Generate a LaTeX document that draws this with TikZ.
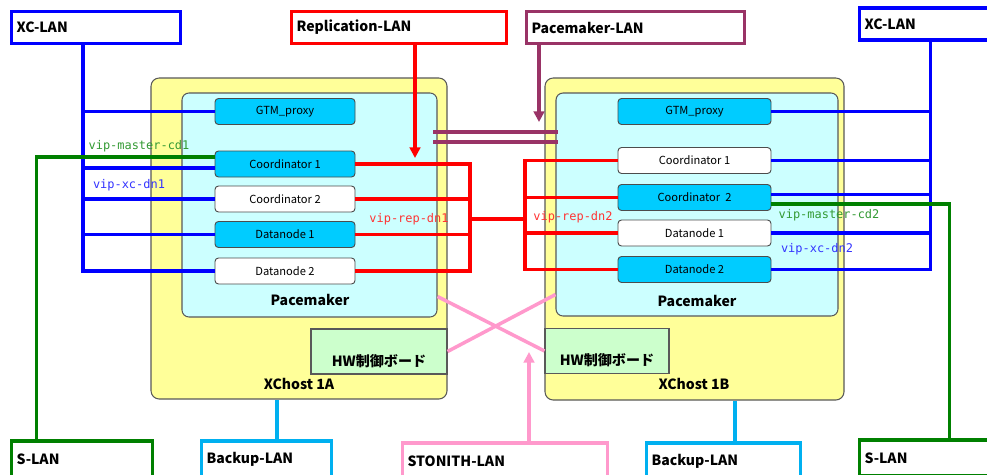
\documentclass[tikz,border=0pt]{standalone}
\usepackage{fontspec}
\setmainfont{Noto Sans CJK JP}
\newfontfamily\vipmono{DejaVu Sans Mono}
\usetikzlibrary{arrows.meta,calc}

\definecolor{xcblue}{HTML}{0000FF}
\definecolor{repred}{HTML}{FF0000}
\definecolor{pmpurple}{HTML}{993366}
\definecolor{sgreen}{HTML}{008000}
\definecolor{bkblue}{HTML}{00B0F0}
\definecolor{stpink}{HTML}{FF99CC}
\definecolor{hostyellow}{HTML}{FFFF99}
\definecolor{pmcyan}{HTML}{CCFFFF}
\definecolor{boxcyan}{HTML}{00CCFF}
\definecolor{hwgreen}{HTML}{CCFFCC}

\newcommand{\pxw}{0.03cm}
\newcommand{\lanfont}{\bfseries\fontsize{12}{14}\selectfont}
\newcommand{\svcfont}{\fontsize{9.5}{10}\selectfont}
\newcommand{\vipfont}{\vipmono\fontsize{10.2}{12}\selectfont}

\tikzset{
  lan/.style={draw=#1, line width=2.6pt, fill=white, minimum height=32*\pxw,
    inner xsep=4pt, inner ysep=0pt, align=left, font=\lanfont},
  host/.style={draw=black!65, fill=hostyellow, rounded corners=7pt, line width=0.9pt},
  pm/.style={draw=black!65, fill=pmcyan, rounded corners=6pt, line width=0.9pt},
  hw/.style={draw=black!65, fill=hwgreen, line width=0.9pt, inner sep=0pt,
    text height=37*\pxw, text depth=8*\pxw, font=\lanfont},
  svc/.style={draw=black!70, rounded corners=3pt, line width=0.8pt,
    minimum height=26*\pxw, inner sep=0pt, font=\svcfont},
  hosttext/.style={font=\lanfont, inner sep=0pt},
  vip/.style={font=\vipfont, inner sep=0pt},
  xcline/.style={xcblue, line width=2.8pt},
  repline/.style={repred, line width=2.8pt},
  sline/.style={sgreen, line width=2.8pt},
  pmline/.style={pmpurple, line width=2.6pt},
  bkline/.style={bkblue, line width=2.8pt},
  stline/.style={stpink, line width=3pt},
  tip/.style={-{Triangle[length=9pt,width=9pt]}}
}

\begin{document}
\begin{tikzpicture}[x=0.03cm, y=-0.03cm]

\clip (0,0) rectangle (987,474);
\fill[white] (0,0) rectangle (987,474);

% LAN
\node[lan=xcblue, text width=159*\pxw] (xcA) at (96,27.5) {XC-LAN};
\node[lan=repred, text width=205*\pxw] (repl) at (399,27.5) {Replication-LAN};
\node[lan=pmpurple, text width=208*\pxw] (pmlan) at (635.5,27.5) {Pacemaker-LAN};
\node[lan=xcblue, text width=131*\pxw] (xcB) at (930,24) {XC-LAN};
\node[lan=sgreen, text width=131*\pxw, minimum height=36*\pxw] (slanA) at (82,459) {S-LAN};
\node[lan=bkblue, text width=120*\pxw, minimum height=36*\pxw] (bkA) at (266.5,459) {Backup-LAN};
\node[lan=stpink, text width=195*\pxw, minimum height=36*\pxw] (stonith) at (505,461) {STONITH-LAN};
\node[lan=bkblue, text width=144*\pxw, minimum height=36*\pxw] (bkB) at (723.5,461) {Backup-LAN};
\node[lan=sgreen, text width=131*\pxw, minimum height=36*\pxw] (slanB) at (930,458) {S-LAN};

% XChost 1A
\node[host, minimum width=296*\pxw, minimum height=321*\pxw] (hostA) at (299,238.5) {};
\node[pm, minimum width=255*\pxw, minimum height=224*\pxw] (pmA) at (309.5,205) {};
\node[hw, minimum width=136*\pxw] (hwA) at (379,351.5) {HW制御ボード};
\node[svc, fill=boxcyan, minimum width=140*\pxw] (gtmA) at (285,111.5) {GTM\_proxy};
\node[svc, fill=boxcyan, minimum width=140*\pxw] (cd1A) at (285,164) {Coordinator 1};
\node[svc, fill=white, minimum width=140*\pxw] (cd2A) at (285,199) {Coordinator 2};
\node[svc, fill=boxcyan, minimum width=140*\pxw] (dn1A) at (285,234.5) {Datanode 1};
\node[svc, fill=white, minimum width=140*\pxw] (dn2A) at (285,271) {Datanode 2};
\node[hosttext] (pmtA) at (310,300) {Pacemaker};
\node[hosttext] (nameA) at (299,384) {XChost 1A};

% XChost 1B
\node[host, minimum width=299*\pxw, minimum height=322*\pxw] (hostB) at (694.5,239) {};
\node[pm, minimum width=282*\pxw, minimum height=223*\pxw] (pmB) at (697,204.5) {};
\node[hw, minimum width=124*\pxw] (hwB) at (607,351) {HW制御ボード};
\node[svc, fill=boxcyan, minimum width=153*\pxw] (gtmB) at (694.5,111.5) {GTM\_proxy};
\node[svc, fill=white, minimum width=153*\pxw] (cd1B) at (694.5,160.5) {Coordinator 1};
\node[svc, fill=boxcyan, minimum width=153*\pxw] (cd2B) at (694.5,197.5) {Coordinator~ 2};
\node[svc, fill=white, minimum width=153*\pxw] (dn1B) at (694.5,233) {Datanode 1};
\node[svc, fill=boxcyan, minimum width=153*\pxw] (dn2B) at (694.5,269.5) {Datanode 2};
\node[hosttext] (pmtB) at (697,301) {Pacemaker};
\node[hosttext] (nameB) at (694,384) {XChost 1B};

% XC-LAN A
\coordinate (xcbusA) at ($(xcA.south)+(-13,0)$);
\coordinate (cd1Ax) at ($(cd1A.west)+(0,4)$);
\draw[xcline] (xcbusA) |- (dn2A.west);
\draw[xcline] (gtmA.west) -- (gtmA.west -| xcbusA);
\draw[xcline] (cd1Ax) -- (cd1Ax -| xcbusA);
\draw[xcline] (cd2A.west) -- (cd2A.west -| xcbusA);
\draw[xcline] (dn1A.west) -- (dn1A.west -| xcbusA);

% XC-LAN B
\coordinate (xcbusB) at ($(xcB.south west)+(72,0)$);
\coordinate (cd2Bx) at ($(cd2B.east)+(0,-3)$);
\draw[xcline] (xcbusB) |- (dn2B.east);
\draw[xcline] (gtmB.east) -- (gtmB.east -| xcbusB);
\draw[xcline] (cd1B.east) -- (cd1B.east -| xcbusB);
\draw[xcline] (cd2Bx) -- (cd2Bx -| xcbusB);
\draw[xcline] (dn1B.east) -- (dn1B.east -| xcbusB);

% S-LAN
\coordinate (sbusA) at ($(slanA.north west)+(26,0)$);
\coordinate (sbusB) at ($(slanB.north west)+(91,0)$);
\draw[sline] ($(cd1A.west)+(0,-7)$) -| (sbusA);
\draw[sline] ($(cd2B.east)+(0,6.5)$) -| (sbusB);

% Replication-LAN
\coordinate (repA) at (470,219);
\coordinate (repB) at (525,219);
\coordinate (replTip) at (415,158);
\draw[repline, tip] (repl.south -| replTip) -- (replTip);
\draw[repline] (cd1A.east) -| (repA) |- (dn2A.east);
\draw[repline] (cd2A.east) -- (cd2A.east -| repA);
\draw[repline] (dn1A.east) -- (dn1A.east -| repA);
\draw[repline] (repA) -- (repB);
\draw[repline] (cd1B.west) -| (repB) |- (dn2B.west);
\draw[repline] (cd2B.west) -- (cd2B.west -| repB);
\draw[repline] (dn1B.west) -- (dn1B.west -| repB);

% Pacemaker-LAN
\coordinate (pmTip) at (539,122);
\coordinate (hbA1) at (433,132);
\coordinate (hbB1) at (558,132);
\coordinate (hbA2) at (433,142);
\coordinate (hbB2) at (558,142);
\draw[pmline, tip] (pmlan.south -| pmTip) -- (pmTip);
\draw[pmline] (hbA1) -- (hbB1);
\draw[pmline] (hbA2) -- (hbB2);

% STONITH-LAN
\coordinate (stTip) at (529,352);
\draw[stline] ($(pmA.south east)+(0,-21)$) -- (hwB.west);
\draw[stline] (hwA.east) -- ($(pmB.south west)+(0,-22)$);
\draw[stline, tip] (stonith.north -| stTip) -- (stTip);

% Backup-LAN
\coordinate (bkAx) at ($(bkA.north)+(10.5,0)$);
\coordinate (bkBx) at ($(bkB.north)+(11.5,0)$);
\draw[bkline] (bkAx) -- (bkAx |- hostA.south);
\draw[bkline] (bkBx) -- (bkBx |- hostB.south);

% VIP
\node[vip, text=sgreen!80!white] (vmA) at (139,146) {vip-master-cd1};
\node[vip, text=xcblue!80!white] (vxA) at (129,185) {vip-xc-dn1};
\node[vip, text=repred!80!white] (vrA) at (409,219) {vip-rep-dn1};
\node[vip, text=repred!80!white] (vrB) at (573,217) {vip-rep-dn2};
\node[vip, text=sgreen!80!white] (vmB) at (829,215) {vip-master-cd2};
\node[vip, text=xcblue!80!white] (vxB) at (817,249) {vip-xc-dn2};

\end{tikzpicture}
\end{document}
